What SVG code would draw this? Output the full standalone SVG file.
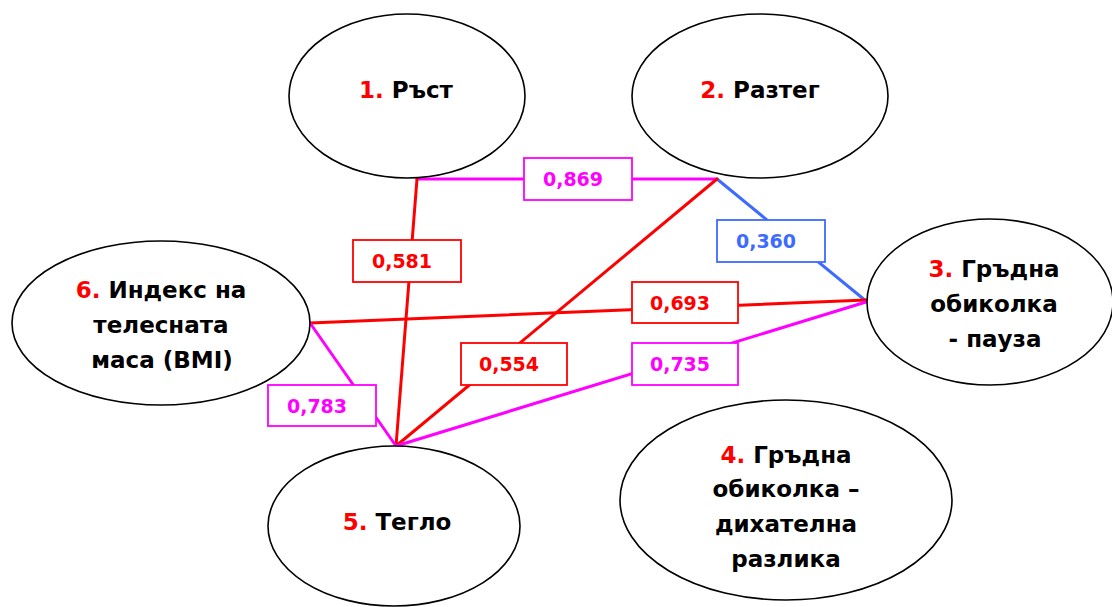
<svg xmlns="http://www.w3.org/2000/svg" width="1112" height="607" viewBox="0 0 1112 607">
  <style>
    .node ellipse { fill: #ffffff; stroke: #000000; stroke-width: 1.6; }
    .node text { font-family: "DejaVu Sans", "Verdana", sans-serif; font-weight: bold; font-size: 23px; fill: #000000; text-anchor: middle; }
    .num { fill: #ff0000; }
    .edge { fill: none; stroke-width: 3; stroke-linecap: round; }
    .red { stroke: #ff0000; }
    .mag { stroke: #ff00ff; }
    .blue { stroke: #3d6bff; }
    .lbl rect { fill: #ffffff; stroke-width: 1.8; }
    .lbl text { font-family: "DejaVu Sans", "Verdana", sans-serif; font-weight: bold; font-size: 19px; text-anchor: middle; }
    .lred rect { stroke: #ff0000; } .lred text { fill: #ff0000; }
    .lmag rect { stroke: #ff00ff; } .lmag text { fill: #ff00ff; }
    .lblue rect { stroke: #3d6bff; } .lblue text { fill: #3d6bff; }
  </style>

  <rect x="0" y="0" width="1112" height="607" fill="#ffffff"/>

  <!-- connectors -->
  <g id="connectors">
    <line class="edge mag" x1="417" y1="179" x2="717" y2="179"/>
    <line class="edge red" x1="417" y1="179" x2="396" y2="446"/>
    <line class="edge blue" x1="717" y1="179" x2="866" y2="301"/>
    <line class="edge red" x1="717" y1="179" x2="396" y2="446"/>
    <line class="edge red" x1="310" y1="323" x2="866" y2="300"/>
    <line class="edge mag" x1="866" y1="302" x2="396" y2="446"/>
    <line class="edge mag" x1="310" y1="323" x2="396" y2="446"/>

    <g class="lbl lmag"><rect x="524" y="158" width="108" height="42"/><text x="573" y="186">0,869</text></g>
    <g class="lbl lred"><rect x="353" y="240" width="108" height="42"/><text x="402" y="268">0,581</text></g>
    <g class="lbl lblue"><rect x="717" y="220" width="108" height="42"/><text x="766" y="248">0,360</text></g>
    <g class="lbl lred"><rect x="632" y="282" width="106" height="41"/><text x="680" y="310">0,693</text></g>
    <g class="lbl lred"><rect x="461" y="343" width="106" height="42"/><text x="509" y="371">0,554</text></g>
    <g class="lbl lmag"><rect x="632" y="343" width="106" height="42"/><text x="680" y="371">0,735</text></g>
    <g class="lbl lmag"><rect x="268" y="385" width="108" height="41"/><text x="317" y="413">0,783</text></g>
  </g>

  <!-- nodes -->
  <g id="node1" class="node">
    <ellipse cx="407" cy="96" rx="118" ry="82"/>
    <text x="406" y="98"><tspan class="num">1.</tspan> Ръст</text>
  </g>
  <g id="node2" class="node">
    <ellipse cx="760" cy="96" rx="128" ry="82"/>
    <text x="760" y="98"><tspan class="num">2.</tspan> Разтег</text>
  </g>
  <g id="node3" class="node">
    <ellipse cx="990" cy="302" rx="123" ry="83"/>
    <text x="994" y="277"><tspan class="num">3.</tspan> Гръдна</text>
    <text x="994" y="312">обиколка</text>
    <text x="995" y="347">- пауза</text>
  </g>
  <g id="node4" class="node">
    <ellipse cx="786" cy="500" rx="166" ry="100"/>
    <text x="786" y="463"><tspan class="num">4.</tspan> Гръдна</text>
    <text x="786" y="497">обиколка –</text>
    <text x="786" y="532">дихателна</text>
    <text x="786" y="567">разлика</text>
  </g>
  <g id="node5" class="node">
    <ellipse cx="394" cy="526" rx="126" ry="80"/>
    <text x="397" y="530"><tspan class="num">5.</tspan> Тегло</text>
  </g>
  <g id="node6" class="node">
    <ellipse cx="161" cy="323" rx="149" ry="82"/>
    <text x="161" y="298"><tspan class="num">6.</tspan> Индекс на</text>
    <text x="161" y="333">телесната</text>
    <text x="162" y="368">маса (BMI)</text>
  </g>
</svg>
